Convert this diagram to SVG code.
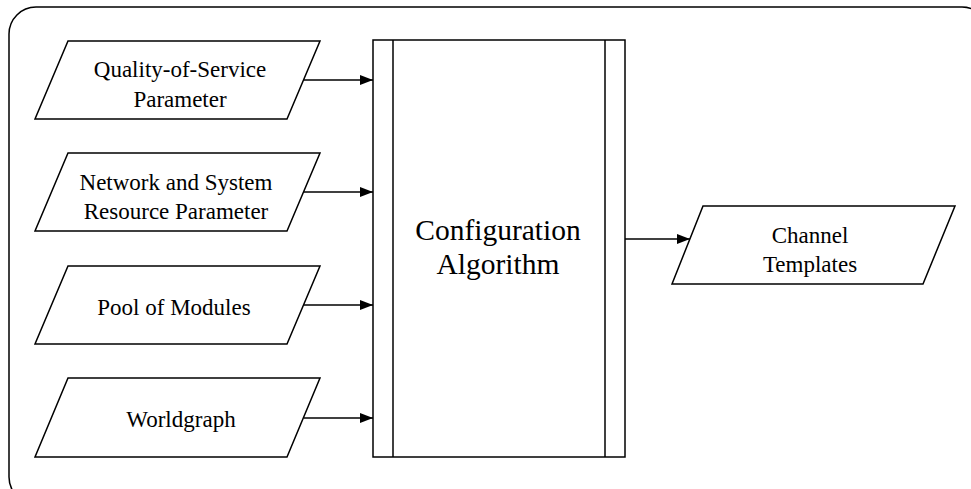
<svg xmlns="http://www.w3.org/2000/svg" width="971" height="489" viewBox="0 0 971 489">
<defs>
<marker id="arr" markerWidth="13" markerHeight="10" refX="13" refY="5" orient="auto" markerUnits="userSpaceOnUse">
<path d="M0,0 L13,5 L0,10 Z" fill="#000"/>
</marker>
<style>
.s{fill:#fff;stroke:#000;stroke-width:1.5}
.t{font-family:"Liberation Serif","Times New Roman",serif;font-size:23px;text-anchor:middle;fill:#000}
.big{font-size:29.5px}
.c{stroke:#000;stroke-width:1.5;fill:none;marker-end:url(#arr)}
</style>
</defs>
<rect x="0" y="0" width="971" height="489" fill="#fff"/>
<rect id="frame" x="9" y="7" width="980" height="497" rx="27" ry="27" fill="none" stroke="#000" stroke-width="1.5"/>
<g id="qos">
<path class="s" d="M68,41 L320,41 L287,119 L35,119 Z"/>
<text class="t" x="180" y="77">Quality-of-Service</text>
<text class="t" x="180" y="107">Parameter</text>
</g>
<g id="network">
<path class="s" d="M68,153 L320,153 L287,231 L35,231 Z"/>
<text class="t" x="176" y="190">Network and System</text>
<text class="t" x="176" y="219">Resource Parameter</text>
</g>
<g id="pool">
<path class="s" d="M68,266 L320,266 L287,344 L35,344 Z"/>
<text class="t" x="174" y="315">Pool of Modules</text>
</g>
<g id="worldgraph">
<path class="s" d="M68,378 L320,378 L287,457 L35,457 Z"/>
<text class="t" x="181" y="427">Worldgraph</text>
</g>
<g id="config">
<rect class="s" x="373" y="40" width="252" height="417"/>
<line x1="393" y1="40" x2="393" y2="457" stroke="#000" stroke-width="1.5"/>
<line x1="605" y1="40" x2="605" y2="457" stroke="#000" stroke-width="1.5"/>
<text class="t big" x="498" y="240">Configuration</text>
<text class="t big" x="498" y="274">Algorithm</text>
</g>
<g id="channel">
<path class="s" d="M703,206 L955,206 L923,284 L672,284 Z"/>
<text class="t" x="810" y="243">Channel</text>
<text class="t" x="810" y="272">Templates</text>
</g>
<g id="connectors">
<line class="c" x1="304" y1="80" x2="373" y2="80"/>
<line class="c" x1="304" y1="192" x2="373" y2="192"/>
<line class="c" x1="304" y1="305" x2="373" y2="305"/>
<line class="c" x1="304" y1="418" x2="373" y2="418"/>
<line class="c" x1="625" y1="239" x2="690" y2="239"/>
</g>
</svg>
